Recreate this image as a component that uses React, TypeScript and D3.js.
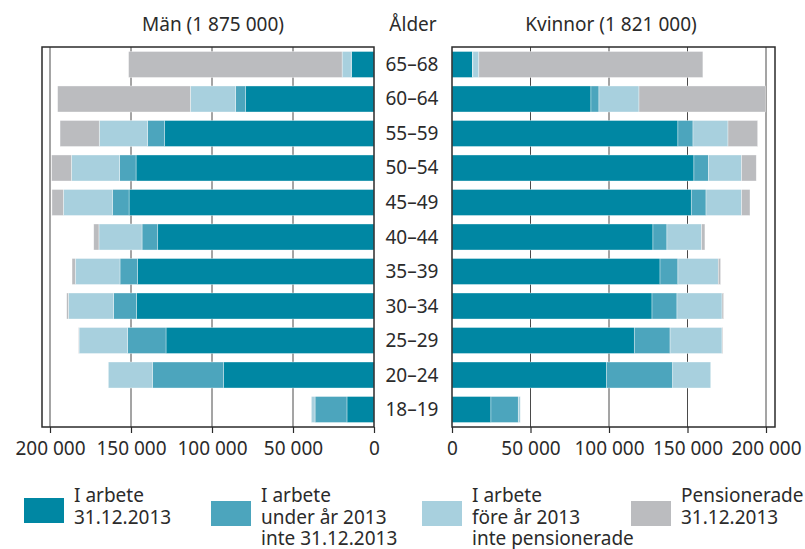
import React, { useRef, useEffect } from 'react';
import * as d3 from 'd3';

// Age groups, top to bottom.
const ages = ['65–68', '60–64', '55–59', '50–54', '45–49', '40–44', '35–39', '30–34', '25–29', '20–24', '18–19'];

// Men, by status.
const menArbete = [13800, 79200, 129200, 146900, 151200, 133500, 145900, 146700, 128400, 92800, 16700];
const menUnder = [300, 6200, 10500, 10100, 10300, 9700, 10900, 14000, 23700, 44000, 19700];
const menFore = [5600, 28000, 29900, 29800, 30300, 26600, 27600, 28000, 30000, 27200, 2300];
const menPension = [131800, 81900, 24200, 12200, 7000, 3200, 2000, 1000, 300, 0, 0];

// Women, by status.
const womenArbete = [13000, 88500, 143900, 154100, 152400, 128000, 132500, 127400, 116100, 98300, 24800];
const womenUnder = [300, 5100, 9600, 9200, 9400, 8900, 11400, 15900, 22800, 42300, 17400];
const womenFore = [3800, 25500, 22300, 21200, 22700, 22100, 25700, 28700, 33100, 24200, 1300];
const womenPension = [142700, 80500, 18900, 9300, 5300, 2100, 1500, 1000, 500, 0, 0];

const tickValues = [0, 50000, 100000, 150000, 200000];

const seriesKeys = ['arbete', 'under', 'fore', 'pension'];
const seriesColors = ['#0087a3', '#4ca5bd', '#a8d0de', '#bbbcbf'];
const legendLabels = [
  ['I arbete', '31.12.2013'],
  ['I arbete', 'under år 2013', 'inte 31.12.2013'],
  ['I arbete', 'före år 2013', 'inte pensionerade'],
  ['Pensionerade', '31.12.2013'],
];

const FONT = '"Noto Sans", sans-serif';
const TEXT = '#2b2b2b';
const SIZE = '19px';

const App = () => {
  const ref = useRef<SVGSVGElement>(null);

  useEffect(() => {
    const svg = d3.select(ref.current);
    svg.selectAll('*').remove();

    const top = 47;
    const bottom = 427;

    const y = d3.scaleBand()
      .domain(ages)
      .range([top, bottom])
      .paddingInner(0.246)
      .paddingOuter(0.13);

    const fmt = d3.formatLocale({ decimal: ',', thousands: '\u00a0', grouping: [3], currency: ['', ''] }).format(',d');

    const panels = [
      {
        x: d3.scaleLinear().domain([0, 200000]).range([374, 50]),
        frame: [42, 374],
        data: [menArbete, menUnder, menFore, menPension],
        title: 'Män (1 875 000)',
        titleX: 213,
      },
      {
        x: d3.scaleLinear().domain([0, 200000]).range([452, 766]),
        frame: [452, 775],
        data: [womenArbete, womenUnder, womenFore, womenPension],
        title: 'Kvinnor (1 821 000)',
        titleX: 611,
      },
    ];

    panels.forEach(p => {
      const g = svg.append('g');

      // Grid lines behind bars.
      g.selectAll('.grid')
        .data(tickValues.filter(v => v > 0))
        .join('line')
        .attr('x1', d => p.x(d))
        .attr('x2', d => p.x(d))
        .attr('y1', top)
        .attr('y2', bottom)
        .attr('stroke', '#4a4a4a')
        .attr('stroke-width', 1);

      // Stacked bars.
      const rows = ages.map((age, i) => {
        const r: any = { age };
        seriesKeys.forEach((k, j) => { r[k] = p.data[j][i]; });
        return r;
      });
      const stacked = d3.stack().keys(seriesKeys)(rows);

      g.selectAll('.layer')
        .data(stacked)
        .join('g')
        .attr('fill', (d, i) => seriesColors[i])
        .selectAll('rect')
        .data(d => d.filter(s => s[1] > s[0]))
        .join('rect')
        .attr('x', d => Math.min(p.x(d[0]), p.x(d[1])))
        .attr('width', d => Math.abs(p.x(d[1]) - p.x(d[0])))
        .attr('y', d => y(d.data.age))
        .attr('height', y.bandwidth())
        .attr('stroke', '#ffffff')
        .attr('stroke-opacity', 0.6)
        .attr('stroke-width', 0.6);

      // Frame.
      g.append('rect')
        .attr('x', p.frame[0])
        .attr('y', top)
        .attr('width', p.frame[1] - p.frame[0])
        .attr('height', bottom - top)
        .attr('fill', 'none')
        .attr('stroke', '#2b2b2b')
        .attr('stroke-width', 1.5);

      // Bottom axis.
      const axis = g.append('g')
        .attr('transform', `translate(0,${bottom})`)
        .call(d3.axisBottom(p.x).tickValues(tickValues).tickSize(6).tickPadding(9).tickFormat(d => fmt(+d)));
      axis.select('.domain').remove();
      axis.selectAll('line').attr('stroke', '#2b2b2b').attr('stroke-width', 1.2);
      axis.selectAll('text')
        .attr('fill', TEXT)
        .style('font-family', FONT)
        .style('font-size', SIZE);

      g.append('text')
        .attr('x', p.titleX)
        .attr('y', 31)
        .attr('text-anchor', 'middle')
        .attr('fill', TEXT)
        .style('font-family', FONT)
        .style('font-size', SIZE)
        .text(p.title);
    });

    // Age labels.
    svg.append('text')
      .attr('x', 413)
      .attr('y', 31)
      .attr('text-anchor', 'middle')
      .attr('fill', TEXT)
      .style('font-family', FONT)
      .style('font-size', SIZE)
      .text('Ålder');

    svg.selectAll('.age')
      .data(ages)
      .join('text')
      .attr('x', 412)
      .attr('y', d => y(d) + y.bandwidth() / 2 + 6.5)
      .attr('text-anchor', 'middle')
      .attr('fill', TEXT)
      .style('font-family', FONT)
      .style('font-size', SIZE)
      .text(d => d);

    // Legend.
    const legendX = [24, 211, 422, 631];
    const legendBoxY = [498, 501, 501, 501];
    const legend = svg.append('g');
    legendLabels.forEach((lines, i) => {
      legend.append('rect')
        .attr('x', legendX[i])
        .attr('y', legendBoxY[i])
        .attr('width', 40)
        .attr('height', 25)
        .attr('fill', seriesColors[i]);
      const t = legend.append('text')
        .attr('x', legendX[i] + 50)
        .attr('y', 502)
        .attr('fill', TEXT)
        .style('font-family', FONT)
        .style('font-size', SIZE);
      lines.forEach((line, j) => {
        t.append('tspan')
          .attr('x', legendX[i] + 50)
          .attr('y', 502 + j * 21.5)
          .text(line);
      });
    });
  }, []);

  return <svg ref={ref} width={805} height={549} style={{ position: 'absolute', left: 0, top: 0 }}></svg>;
};

export default App;
